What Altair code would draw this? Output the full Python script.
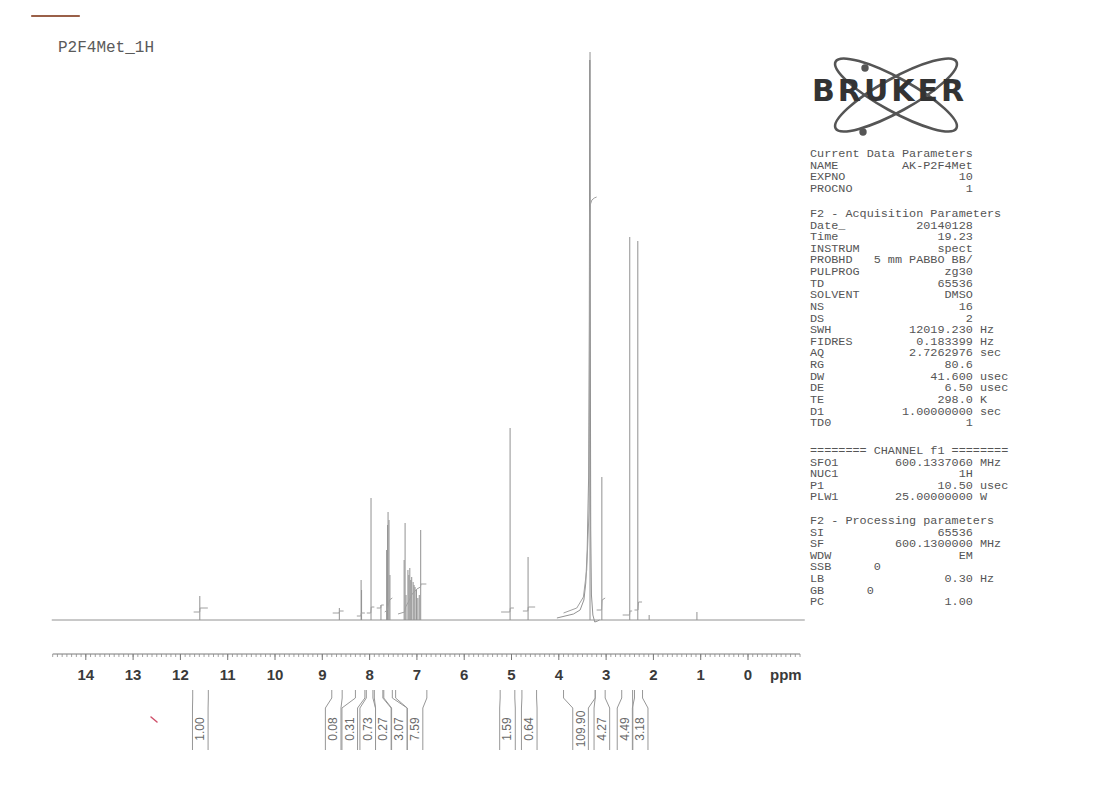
import altair as alt
import numpy as np
import pandas as pd

# ---------------- data ----------------
spectrum_title = "P2F4Met_1H"

# narrow peaks: chemical shift (ppm) and height (baseline = 0)
peak_ppm = [11.59, 8.64, 8.18, 8.17, 7.97, 7.76, 7.64, 7.62, 7.61, 7.59, 7.57,
            7.27, 7.25, 7.23, 7.19, 7.17, 7.15, 7.13, 7.11, 7.08, 7.06, 7.04,
            7.01, 6.98, 6.95, 6.92, 5.03, 4.65, 3.34, 3.09, 2.50, 2.33, 2.09, 1.08]
peak_height = [24, 12, 40, 30, 122, 15, 70, 95, 108, 100, 45,
               60, 97, 25, 50, 45, 52, 40, 43, 38, 35, 33,
               30, 22, 25, 90, 192, 63, 568, 143, 383, 379, 5, 8]

# broad foot of the water signal
water_foot_ppm = [4.04, 3.69, 3.55, 3.47, 3.43, 3.40, 3.37, 3.355, 3.345, 3.335,
                  3.325, 3.31, 3.28, 3.24, 3.18, 3.14]
water_foot_int = [2, 6, 10, 20, 37, 70, 143, 300, 560, 300, 90, 25, 5, -2, -1, 0]

# integral curves drawn over the spectrum
integral_curves = {
    "i1": ([11.72, 11.592, 11.585, 11.42], [8, 8, 12, 12]),
    "i2": ([8.78, 8.645, 8.635, 8.55], [7, 7, 9, 9]),
    "i3": ([8.27, 8.185, 8.175, 8.10], [4, 4, 7, 7]),
    "i4": ([8.06, 7.975, 7.965, 7.90], [7, 7, 13, 13]),
    "i5": ([7.85, 7.765, 7.755, 7.70], [12, 12, 15, 15]),
    "i6": ([7.68, 7.625, 7.60, 7.58, 7.52], [8, 10, 16, 20, 22]),
    "i7": ([7.40, 7.26, 7.24, 7.18, 7.10, 7.00, 6.925, 6.915, 6.80],
           [6, 8, 13, 18, 26, 31, 33, 36, 36]),
    "i8": ([5.22, 5.035, 5.025, 4.95], [8, 8, 12, 12]),
    "i9": ([4.76, 4.655, 4.645, 4.50], [9, 9, 13, 13]),
    "i10": ([3.90, 3.62, 3.48, 3.41, 3.36, 3.35, 3.345, 3.34, 3.33, 3.30, 3.25, 3.20],
            [7, 12, 23, 50, 110, 220, 330, 405, 416, 420, 422, 423]),
    "i11": ([3.20, 3.095, 3.085, 3.02], [10, 10, 20, 22]),
    "i12": ([2.65, 2.505, 2.495, 2.45], [5, 5, 9, 9]),
    "i13": ([2.40, 2.325, 2.315, 2.24], [10, 10, 18, 18]),
}

# integral regions and their printed values
int_labels = ["1.00", "0.08", "0.31", "0.73", "0.27", "3.07", "7.59",
              "1.59", "0.64", "109.90", "4.27", "4.49", "3.18"]
int_from = [11.74, 8.80, 8.30, 8.07, 7.90, 7.70, 7.45, 5.24, 4.78, 3.90, 3.23, 2.67, 2.40]
int_to = [11.41, 8.58, 8.10, 7.93, 7.72, 7.52, 6.79, 4.93, 4.47, 3.23, 3.02, 2.44, 2.23]
int_label_ppm = [11.58, 8.77, 8.42, 8.04, 7.71, 7.37, 7.04, 5.085, 4.625, 3.54, 3.09, 2.60, 2.28]

axis_major = list(range(0, 15))
axis_major_labels = [str(v) for v in axis_major]
axis_start, axis_end = 14.7, -1.1
axis_title = "ppm"

logo_text = "BRUKER"

sec1_names = ["Current Data Parameters", "NAME", "EXPNO", "PROCNO"]
sec1_values = ["", "AK-P2F4Met", "10", "1"]
sec1_units = ["", "", "", ""]

sec2_names = ["F2 - Acquisition Parameters", "Date_", "Time", "INSTRUM", "PROBHD",
              "PULPROG", "TD", "SOLVENT", "NS", "DS", "SWH", "FIDRES", "AQ", "RG",
              "DW", "DE", "TE", "D1", "TD0"]
sec2_values = ["", "20140128", "19.23", "spect", "5 mm PABBO BB/", "zg30", "65536",
               "DMSO", "16", "2", "12019.230", "0.183399", "2.7262976", "80.6",
               "41.600", "6.50", "298.0", "1.00000000", "1"]
sec2_units = ["", "", "", "", "", "", "", "", "", "", "Hz", "Hz", "sec", "",
              "usec", "usec", "K", "sec", ""]

sec3_names = ["======== CHANNEL f1 ========", "SFO1", "NUC1", "P1", "PLW1"]
sec3_values = ["", "600.1337060", "1H", "10.50", "25.00000000"]
sec3_units = ["", "MHz", "", "usec", "W"]

sec4_names = ["F2 - Processing parameters", "SI", "SF", "WDW", "SSB      0", "LB",
              "GB      0", "PC"]
sec4_values = ["", "65536", "600.1300000", "EM", "", "0.30", "", "1.00"]
sec4_units = ["", "", "MHz", "", "", "Hz", "", ""]

# ---------------- layout ----------------
W, H = 1088, 778
xs = alt.Scale(domain=[-7.357, 15.645], reverse=True, nice=False, zero=False)
ys = alt.Scale(domain=[-166, 612], nice=False, zero=False)


def X(f):
    return alt.X(f, type="quantitative", scale=xs, axis=None)


def Y(f):
    return alt.Y(f, type="quantitative", scale=ys, axis=None)


one = pd.DataFrame({"k": [0]})
SPEC = "#929292"
GREY_TXT = "#555555"

layers = []

# baseline of spectrum
base_df = pd.DataFrame({"a": [14.72], "b": [-1.2], "y": [0]})
layers.append(alt.Chart(base_df).mark_rule(color=SPEC, strokeWidth=1).encode(
    x=X("a"), x2="b", y=Y("y")))

# peaks
pk = pd.DataFrame({"ppm": peak_ppm, "h": peak_height, "z": 0})
layers.append(alt.Chart(pk).mark_rule(color=SPEC, strokeWidth=1).encode(
    x=X("ppm"), y=Y("z"), y2="h"))

# water foot
wf = pd.DataFrame({"ppm": water_foot_ppm, "v": water_foot_int,
                   "k": range(len(water_foot_ppm))})
layers.append(alt.Chart(wf).mark_line(color=SPEC, strokeWidth=1).encode(
    x=X("ppm"), y=Y("v"), order="k:Q"))

# integral curves
rows = []
for name, (pp, vv) in integral_curves.items():
    for k, (p, v) in enumerate(zip(pp, vv)):
        rows.append({"id": name, "k": k, "ppm": p, "v": v})
ic = pd.DataFrame(rows)
layers.append(alt.Chart(ic).mark_line(color="#a0a0a0", strokeWidth=1).encode(
    x=X("ppm"), y=Y("v"), detail="id:N", order="k:Q"))

# axis
AX_Y = -34
ax_df = pd.DataFrame({"a": [axis_start], "b": [axis_end], "y": [AX_Y]})
layers.append(alt.Chart(ax_df).mark_rule(color="#7a7a7a", strokeWidth=1).encode(
    x=X("a"), x2="b", y=Y("y")))
minor = np.round(np.arange(int(axis_end * 10), int(axis_start * 10) + 1) / 10, 1)
mn = pd.DataFrame({"t": minor, "y1": AX_Y, "y2": AX_Y - 3})
layers.append(alt.Chart(mn).mark_rule(color="#8a8a8a", strokeWidth=0.8).encode(
    x=X("t"), y=Y("y1"), y2="y2"))
mj = pd.DataFrame({"t": axis_major, "lab": axis_major_labels, "y1": AX_Y,
                   "y2": AX_Y - 6, "ly": -55})
layers.append(alt.Chart(mj).mark_rule(color="#7a7a7a", strokeWidth=1).encode(
    x=X("t"), y=Y("y1"), y2="y2"))
layers.append(alt.Chart(mj).mark_text(font="Liberation Sans", fontSize=15,
                                      fontWeight="bold", color="#3a3a3a",
                                      baseline="middle").encode(
    x=X("t"), y=Y("ly"), text="lab:N"))
tt = pd.DataFrame({"t": [-0.80], "lab": [axis_title], "ly": [-55]})
layers.append(alt.Chart(tt).mark_text(font="Liberation Sans", fontSize=15,
                                      fontWeight="bold", color="#3a3a3a",
                                      baseline="middle").encode(
    x=X("t"), y=Y("ly"), text="lab:N"))

# integral brackets under the axis
HW = 0.165
Y_TOP, Y_K1, Y_K2, Y_BOT = -70, -78, -88, -130
br = []
for i, (lab, a, b, c) in enumerate(zip(int_labels, int_from, int_to, int_label_ppm)):
    for side, (p0, p1) in enumerate([(a, c + HW), (b, c - HW)]):
        for k, (p, v) in enumerate([(p0, Y_TOP), (p0, Y_K1), (p1, Y_K2), (p1, Y_BOT)]):
            br.append({"id": f"{i}_{side}", "k": k, "ppm": p, "v": v})
brdf = pd.DataFrame(br)
layers.append(alt.Chart(brdf).mark_line(color="#979797", strokeWidth=1).encode(
    x=X("ppm"), y=Y("v"), detail="id:N", order="k:Q"))
il = pd.DataFrame({"ppm": int_label_ppm, "lab": int_labels, "v": -109})
layers.append(alt.Chart(il).mark_text(font="Liberation Sans", fontSize=12,
                                      color="#6a6a6a", angle=270, align="center",
                                      baseline="middle").encode(
    x=X("ppm"), y=Y("v"), text="lab:N"))

# title
layers.append(alt.Chart(one).mark_text(text=spectrum_title, font="Liberation Mono",
                                       fontSize=16, color="#5a5a5a", align="left",
                                       baseline="middle").encode(
    x=alt.value(50), y=alt.value(39)))

# scanner pen marks
layers.append(alt.Chart(one).mark_rule(color="#9a6048", strokeWidth=2.2,
                                       strokeCap="round").encode(
    x=alt.value(24), x2=alt.value(71), y=alt.value(8)))
layers.append(alt.Chart(one).mark_rule(color="#d0506a", strokeWidth=1.5,
                                       strokeCap="round").encode(
    x=alt.value(143), x2=alt.value(149), y=alt.value(709), y2=alt.value(714)))

# Bruker logo: two crossed orbits, two electrons, the word
ell1 = "M -0.875 -0.485 A 1 0.24 29 1 1 0.875 0.485 A 1 0.24 29 1 1 -0.875 -0.485 Z"
ell2 = "M -0.875 0.485 A 1 0.24 -29 1 0 0.875 -0.485 A 1 0.24 -29 1 0 -0.875 0.485 Z"
for shp in (ell1, ell2):
    layers.append(alt.Chart(one).mark_point(shape=shp, size=138 * 138, filled=False,
                                            color="#555555", strokeWidth=2.6,
                                            opacity=1).encode(
        x=alt.value(888), y=alt.value(87)))
dots = [(857, 60), (855, 124)]
for dx, dy in dots:
    layers.append(alt.Chart(one).mark_point(shape="circle", size=55, filled=True,
                                            color="#555555", opacity=1).encode(
        x=alt.value(dx), y=alt.value(dy)))
layers.append(alt.Chart(one).mark_text(text="\u200a".join(logo_text), font="DejaVu Sans",
                                       fontWeight="bold", fontSize=30, color="#333333",
                                       align="center", baseline="alphabetic").encode(
    x=alt.value(880), y=alt.value(93)))


# parameter listing (monospace printout: value right-aligned at column 23)
def printout(names, values, units):
    lines = []
    for n, v, u in zip(names, values, units):
        s = n.ljust(23 - len(v)) + v if v else n
        if u:
            s = s.ljust(23) + " " + u
        lines.append(s.replace(" ", "\u00a0"))
    return lines


LH = 11.62
sections = [(153, sec1_names, sec1_values, sec1_units),
            (213, sec2_names, sec2_values, sec2_units),
            (450, sec3_names, sec3_values, sec3_units),
            (520, sec4_names, sec4_values, sec4_units)]
for y0, nm, vl, un in sections:
    layers.append(alt.Chart(one).mark_text(text=printout(nm, vl, un),
                                           font="Liberation Mono", fontSize=11.8,
                                           lineHeight=LH, color=GREY_TXT, align="left",
                                           baseline="alphabetic").encode(
        x=alt.value(802), y=alt.value(y0 - 4)))

chart = alt.layer(*layers).properties(
    width=W, height=H, autosize=alt.AutoSizeParams(type="none"), padding=0
).configure_view(stroke=None)

chart.save("out.html", embed_options={"renderer": "svg", "actions": False})
